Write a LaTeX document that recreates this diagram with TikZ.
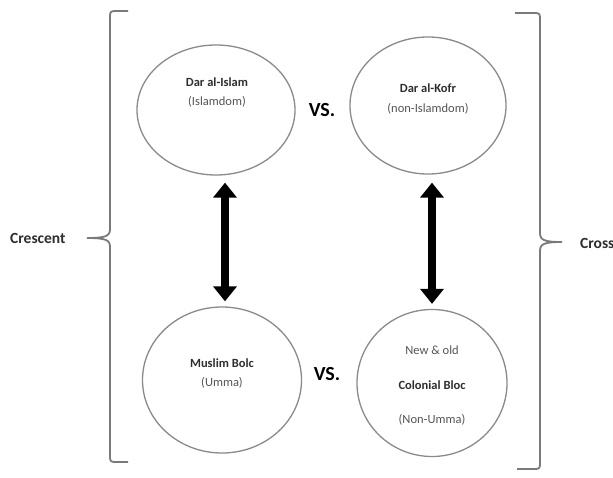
\documentclass[tikz,border=0pt]{standalone}
\usepackage{fontspec}
\setmainfont{Carlito}
\usetikzlibrary{shapes.geometric,arrows.meta}
\definecolor{ringgray}{HTML}{8A8A8A}
\definecolor{brgray}{HTML}{7A7A7A}
\definecolor{txtdark}{HTML}{2E2E2E}
\definecolor{txtlight}{HTML}{555555}
\tikzset{
  ring/.style={draw=ringgray, line width=1.3pt, ellipse, inner sep=0pt},
  boldlbl/.style={font=\fontsize{12.5}{14}\selectfont\bfseries, text=txtdark, inner sep=0pt},
  plainlbl/.style={font=\fontsize{12.5}{14}\selectfont, text=txtlight, inner sep=0pt},
  vslbl/.style={font=\fontsize{20}{22}\selectfont\bfseries, text=black, inner sep=0pt},
  sidelbl/.style={font=\fontsize{15.5}{17}\selectfont\bfseries, text=txtdark, inner sep=0pt},
  dblarrow/.style={line width=8.5pt, black, {Triangle[length=15pt,width=23pt]}-{Triangle[length=15pt,width=23pt]}},
  bracket/.style={draw=brgray, line width=1.8pt, line join=round}
}
\begin{document}
\begin{tikzpicture}[x=1pt,y=-1pt]
\useasboundingbox (0,0) rectangle (613,477);
\fill[white] (0,0) rectangle (613,477);
\clip (0,0) rectangle (613,477);

% ellipses
\node[ring, minimum width=158pt, minimum height=130pt] (tl) at (216,110) {};
\node[ring, minimum width=156pt, minimum height=137pt] (tr) at (428,105.5) {};
\node[ring, minimum width=159pt, minimum height=146pt] (bl) at (222,380) {};
\node[ring, minimum width=150pt, minimum height=147pt] (br) at (432,383) {};

% texts
\node[boldlbl] (t1) at (217,82) {Dar al-Islam};
\node[plainlbl] (t2) at (217,102) {(Islamdom)};
\node[boldlbl] (t3) at (428,88) {Dar al-Kofr};
\node[plainlbl] (t4) at (428,109) {(non-Islamdom)};
\node[boldlbl] (t5) at (222,363) {Muslim Bolc};
\node[plainlbl] (t6) at (222,383) {(Umma)};
\node[plainlbl] (t7) at (432,350) {New \& old};
\node[boldlbl] (t8) at (432,385) {Colonial Bloc};
\node[plainlbl] (t9) at (432,420) {(Non-Umma)};

\node[vslbl] (vs1) at (322,110) {VS.};
\node[vslbl] (vs2) at (327,374) {VS.};

% arrows
\draw[dblarrow] ([xshift=9pt,yshift=-7pt]tl.south) -- ([xshift=3pt,yshift=5pt]bl.north);
\draw[dblarrow] ([xshift=4pt,yshift=-8pt]tr.south) -- ([yshift=5pt]br.north);

% side labels
\node[sidelbl, anchor=west] (cres) at (10,238) {Crescent};
\node[sidelbl, anchor=west] (cross) at (580,243) {Cross};

\coordinate (lt) at (87,238);
\coordinate (rt) at (562,242);

% left brace
\draw[bracket] (128,11) -- (115,11) .. controls (111,11) and (110,12) .. (110,16)
  -- (110,229) .. controls (110,236) and (106,238) .. (lt)
  (lt) .. controls (106,238) and (110,240) .. (110,247)
  -- (110,457) .. controls (110,461) and (111,462) .. (115,462) -- (128,462);

% right brace
\draw[bracket] (515,13) -- (535,13) .. controls (539,13) and (540,14) .. (540,18)
  -- (540,233) .. controls (540,240) and (544,242) .. (rt)
  (rt) .. controls (544,242) and (540,244) .. (540,251)
  -- (540,464) .. controls (540,468) and (539,469) .. (535,469) -- (517,469);
\end{tikzpicture}
\end{document}
